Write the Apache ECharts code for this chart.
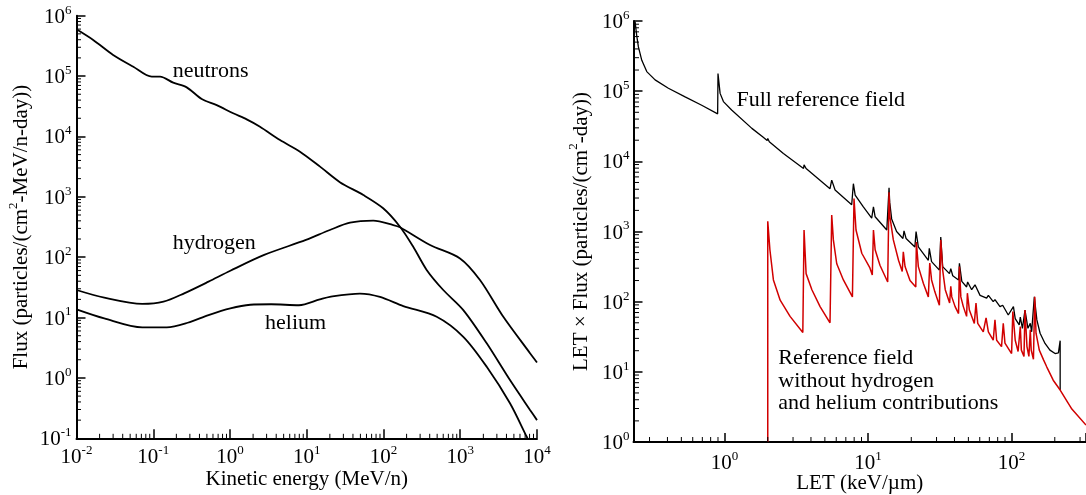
<!DOCTYPE html>
<html><head><meta charset="utf-8">
<script src="https://cdn.jsdelivr.net/npm/echarts@6/dist/echarts.min.js"></script>
<style>html,body{margin:0;padding:0;background:#fff}#c{width:1086px;height:495px}</style>
</head><body><div id="c"></div>
<script>
// ---------- Left panel: flux vs kinetic energy ----------
const neutronE = [0.01, 0.0165, 0.03, 0.055, 0.0955, 0.1225, 0.182, 0.273, 0.428, 0.671, 1.1, 1.65, 2.46, 4.48, 8.16, 14.9, 27, 54.6, 99, 164, 244, 365, 601, 1096, 2213, 4446, 8110, 10000];
const neutronF = [5.96e5, 3.97e5, 2.24e5, 1.43e5, 9.8e4, 9.8e4, 7.77e4, 6.5e4, 4.17e4, 3.3e4, 2.42e4, 1.92e4, 1.45e4, 8.7e3, 5.6e3, 3.16e3, 1.75e3, 1070, 646, 320, 149, 61.6, 28.6, 13.3, 3.74, 0.92, 0.295, 0.2];
const hydrogenE = [0.01, 0.023, 0.072, 0.136, 0.253, 0.525, 1.01, 2.79, 9.75, 20, 36.6, 73.6, 134, 164, 404, 993, 1807, 3640, 8110, 10000];
const hydrogenF = [28.6, 21.3, 16.8, 18.3, 25.2, 39.3, 59.7, 109, 193, 282, 372, 402, 341, 313, 159, 95.5, 41.9, 10.3, 2.57, 1.8];
const heliumE = [0.01, 0.023, 0.072, 0.15, 0.281, 0.525, 1.01, 1.84, 3.43, 7.9, 14.8, 20, 49.4, 90, 181, 493, 1096, 2213, 4446, 7345, 7520];
const heliumF = [13.7, 9.7, 6.9, 6.9, 8.2, 11, 14.2, 16.3, 16.6, 16, 20, 22.1, 25, 22, 15.5, 10.3, 4.8, 1.53, 0.38, 0.106, 0.1];

// ---------- Right panel: LET x flux vs LET ----------
const letFull = [0.238, 0.244, 0.251, 0.265, 0.287, 0.328, 0.406, 0.531, 0.693, 0.895, 0.90, 0.931, 0.982, 1.12, 1.55, 1.86, 1.98, 2.0, 2.05, 2.57, 3.55, 3.58, 3.7, 5.43, 5.58, 5.89, 7.69, 7.9, 8.13, 9.27, 10.6, 10.9, 11.2, 13.5, 14.0, 14.15, 14.6, 15.8, 17.5, 17.8, 18.4, 21.2, 21.6, 22.4, 26.3, 26.7, 27.7, 31.4, 32.1, 33.1, 36.9, 37.7, 38.9, 42.7, 43.3, 45.0, 48.6, 49.4, 52.7, 55.6, 60.3, 67.0, 68.9, 74.5, 76.6, 83.0, 86.7, 94.8, 103, 106, 113, 115, 119, 124, 130, 135, 138, 144, 150, 158, 171, 185, 201, 212, 218, 218];
const fluxFull = [9.8e5, 6.3e5, 4.27e5, 2.75e5, 1.9e5, 1.45e5, 1.1e5, 8.3e4, 6.3e4, 4.75e4, 1.78e5, 9.3e4, 7.1e4, 5.4e4, 2.95e4, 2.2e4, 1.98e4, 2.12e4, 1.9e4, 1.29e4, 7.9e3, 8.9e3, 7.9e3, 4.07e3, 5.4e3, 3.9e3, 2.4e3, 4.8e3, 3.3e3, 2.24e3, 1.55e3, 2.24e3, 1.62e3, 1.05e3, 4.2e3, 2.6e3, 1.51e3, 1.0e3, 794, 1.02e3, 794, 603, 1.0e3, 603, 389, 575, 372, 282, 832, 316, 251, 295, 234, 204, 351, 195, 162, 191, 148, 174, 123, 112, 123, 100, 107, 85, 89, 64.6, 85, 57.5, 46.8, 60.3, 41.7, 75.9, 41.7, 49, 37.2, 117, 55, 35.5, 25.4, 20.4, 18.2, 18.6, 27.8, 5.5];
const letHeavy = [2.0, 2.0, 2.07, 2.19, 2.44, 2.86, 3.51, 3.58, 3.70, 4.06, 4.63, 5.43, 5.58, 5.73, 6.05, 6.73, 7.78, 7.98, 8.24, 9.04, 10.3, 10.7, 10.9, 11.2, 12.1, 13.7, 14.0, 14.2, 15.0, 16.3, 17.3, 17.6, 18.1, 19.6, 21.5, 21.7, 22.4, 24.3, 26.3, 26.9, 27.7, 29.2, 31.4, 32.1, 33.1, 34.5, 37.0, 37.7, 38.3, 40.4, 42.7, 43.3, 44.3, 46.1, 48.6, 49.2, 50.8, 55.0, 56.5, 58.1, 63.5, 66.4, 68.9, 74.5, 76.6, 78.7, 85.1, 87.5, 89.9, 100, 102, 106, 111, 115, 117, 122, 124, 128, 132, 135, 137, 142, 145, 148, 156, 167, 176, 195, 218, 263, 330];
const fluxHeavy = [1, 1400, 550, 204, 105, 61.7, 36.3, 1050, 251, 148, 85, 50, 1720, 759, 347, 204, 117, 2950, 1050, 490, 302, 240, 1050, 550, 331, 191, 3630, 1620, 759, 389, 269, 513, 316, 200, 162, 708, 316, 182, 117, 355, 204, 138, 89, 759, 282, 148, 95.5, 166, 117, 85, 67.6, 316, 117, 85, 61.7, 132, 75.9, 49, 95.5, 49, 37.2, 58.9, 37.2, 28.2, 55, 28.2, 22.9, 49, 25.7, 18.2, 72.4, 28.2, 19.5, 44.2, 20.4, 16.6, 75.9, 22.9, 16.6, 39.8, 20.4, 15.1, 117, 35.5, 20.4, 14.8, 11.7, 7.6, 5.5, 2.95, 1.74];

// axis ranges
const leftX = [0.01, 1e4], leftY = [0.1, 1e6];
const rightX = [0.232, 330], rightY = [1, 1e6];

const FONT = '"Liberation Serif", "Times New Roman", serif';
const zip = (a, b) => a.map((v, i) => [v, b[i]]);

function powLabel(v) {
  const e = Math.log10(v), r = Math.round(e);
  if (Math.abs(e - r) > 1e-6) return '';
  return '{b|10}{s|' + r + '}';
}
const labRich = {
  b: { fontFamily: FONT, fontSize: 21, color: '#000', lineHeight: 24, verticalAlign: 'bottom' },
  s: { fontFamily: FONT, fontSize: 13, color: '#000', lineHeight: 14, verticalAlign: 'top' }
};
const nameRich = {
  n: { fontFamily: FONT, fontSize: 21, color: '#000', lineHeight: 24, verticalAlign: 'bottom' },
  s: { fontFamily: FONT, fontSize: 13, color: '#000', lineHeight: 14, verticalAlign: 'top' }
};

function minorVals(r) {
  const out = [];
  for (let d = Math.floor(Math.log10(r[0])); d <= Math.ceil(Math.log10(r[1])); d++) {
    for (let k = 2; k <= 9; k++) {
      const v = k * Math.pow(10, d);
      if (v > r[0] * 1.0001 && v < r[1] * 0.9999) out.push(v);
    }
  }
  return out;
}
function tickSeries(gi, dir, vals, other, len) {
  return {
    type: 'custom', xAxisIndex: gi, yAxisIndex: gi, silent: true, clip: false, z: 5,
    data: vals.map(v => dir === 'x' ? [v, other] : [other, v]),
    encode: { x: 0, y: 1 },
    renderItem: function (params, api) {
      const p = api.coord([api.value(0), api.value(1)]);
      const shape = dir === 'x'
        ? { x1: p[0], y1: p[1], x2: p[0], y2: p[1] - len }
        : { x1: p[0], y1: p[1], x2: p[0] + len, y2: p[1] };
      return { type: 'line', shape: shape, style: { stroke: '#000', lineWidth: 1 } };
    }
  };
}

function logAxis(gi, range, opts) {
  return Object.assign({
    type: 'log', logBase: 10, gridIndex: gi, min: range[0], max: range[1],
    axisLine: { show: true, onZero: false, lineStyle: { color: '#000', width: 2 } },
    axisTick: { show: true, inside: true, length: 9, lineStyle: { color: '#000', width: 1.5 } },
    minorTick: { show: false }, splitLine: { show: false }, minorSplitLine: { show: false },
    axisLabel: { formatter: powLabel, rich: labRich, color: '#000' },
    nameLocation: 'middle', nameMoveOverlap: false,
    nameTextStyle: { fontFamily: FONT, fontSize: 21, color: '#000', rich: nameRich }
  }, opts);
}

const chart = echarts.init(document.getElementById('c'), null, { renderer: 'canvas' });
chart.setOption({
  animation: false,
  backgroundColor: '#fff',
  grid: [
    { left: 76.5, top: 15.7, width: 460.5, height: 422.6, containLabel: false, outerBoundsMode: 'none' },
    { left: 633.5, top: 21, width: 452.5, height: 421, containLabel: false, outerBoundsMode: 'none' }
  ],
  xAxis: [
    logAxis(0, leftX, { name: 'Kinetic energy (MeV/n)', nameGap: 31, axisLabel: { formatter: powLabel, rich: labRich, margin: 6 } }),
    logAxis(1, rightX, { name: 'LET (keV/\u00b5m)', nameGap: 31, axisLabel: { formatter: powLabel, rich: labRich, margin: 8 } })
  ],
  yAxis: [
    logAxis(0, leftY, { name: '{n|Flux (particles/(cm}{s|2}{n|-MeV/n-day))}', nameGap: 45, axisLabel: { formatter: powLabel, rich: labRich, margin: 5 } }),
    logAxis(1, rightY, { name: '{n|LET \u00d7 Flux (particles/(cm}{s|2}{n|-day))}', nameGap: 42, axisLabel: { formatter: powLabel, rich: labRich, margin: 4 } })
  ],
  series: [
    { type: 'line', xAxisIndex: 0, yAxisIndex: 0, data: zip(neutronE, neutronF), smooth: 0.3, showSymbol: false, lineStyle: { color: '#000', width: 1.8 } },
    { type: 'line', xAxisIndex: 0, yAxisIndex: 0, data: zip(hydrogenE, hydrogenF), smooth: 0.3, showSymbol: false, lineStyle: { color: '#000', width: 1.8 } },
    { type: 'line', xAxisIndex: 0, yAxisIndex: 0, data: zip(heliumE, heliumF), smooth: 0.3, showSymbol: false, lineStyle: { color: '#000', width: 1.8 } },
    { type: 'line', xAxisIndex: 1, yAxisIndex: 1, data: zip(letFull, fluxFull), showSymbol: false, lineStyle: { color: '#000', width: 1.3 } },
    { type: 'line', xAxisIndex: 1, yAxisIndex: 1, data: zip(letHeavy, fluxHeavy), showSymbol: false, lineStyle: { color: '#d10000', width: 1.5 } },
    tickSeries(0, 'x', minorVals(leftX), leftY[0], 4.5),
    tickSeries(0, 'y', minorVals(leftY), leftX[0], 4.5),
    tickSeries(1, 'x', minorVals(rightX), rightY[0], 5),
    tickSeries(1, 'y', minorVals(rightY), rightX[0], 5.5)
  ],
  graphic: [
    { type: 'text', left: 172.7, top: 60, style: { text: 'neutrons', font: '22px ' + FONT, fill: '#000' } },
    { type: 'text', left: 172.7, top: 232, style: { text: 'hydrogen', font: '22px ' + FONT, fill: '#000' } },
    { type: 'text', left: 265, top: 312, style: { text: 'helium', font: '22px ' + FONT, fill: '#000' } },
    { type: 'text', left: 736.5, top: 89, style: { text: 'Full reference field', font: '22px ' + FONT, fill: '#000' } },
    { type: 'text', left: 778.3, top: 347, style: { text: 'Reference field\nwithout hydrogen\nand helium contributions', font: '22px ' + FONT, fill: '#000', lineHeight: 22.5 } }
  ]
});
</script>
</body></html>
